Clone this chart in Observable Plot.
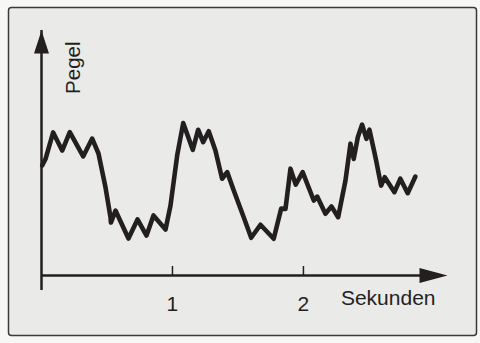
<!DOCTYPE html>
<html><head><meta charset="utf-8">
<script src="https://cdn.jsdelivr.net/npm/d3@7"></script>
<script src="https://cdn.jsdelivr.net/npm/@observablehq/plot@0.6"></script>
<style>html,body{margin:0;padding:0;background:#f7f7f5;} svg{display:block}</style>
</head><body><div id="chart"></div>
<script>
// time in seconds
const seconds = [0.005, 0.031, 0.089, 0.158, 0.216, 0.318, 0.387, 0.435, 0.489, 0.527, 0.530, 0.565, 0.664, 0.733, 0.802, 0.855, 0.947, 0.985, 1.036, 1.082, 1.155, 1.196, 1.234, 1.277, 1.328, 1.379, 1.418, 1.468, 1.544, 1.601, 1.672, 1.773, 1.830, 1.863, 1.901, 1.941, 1.994, 2.079, 2.105, 2.168, 2.214, 2.265, 2.321, 2.359, 2.384, 2.415, 2.448, 2.481, 2.504, 2.550, 2.593, 2.621, 2.695, 2.740, 2.796, 2.855];
// level (arbitrary units)
const levels = [4.49, 4.76, 5.84, 5.10, 5.85, 4.86, 5.59, 4.98, 3.59, 2.37, 2.16, 2.65, 1.51, 2.29, 1.63, 2.45, 1.88, 2.86, 4.90, 6.22, 5.13, 5.95, 5.44, 5.89, 5.10, 3.95, 4.22, 3.47, 2.38, 1.54, 2.07, 1.50, 2.73, 2.72, 4.36, 3.71, 4.22, 3.06, 3.22, 2.52, 2.82, 2.38, 3.88, 5.38, 4.76, 5.64, 6.16, 5.58, 5.95, 4.83, 3.67, 4.01, 3.40, 3.95, 3.36, 4.04];
const tickValues = [1, 2];
const tickLabels = ["1", "2"];
const xLabel = "Sekunden";
const yLabel = "Pegel";
const xMax = 3.1, yMax = 10;

const data = seconds.map((t, i) => ({t, v: levels[i]}));
const ink = "#231f20";

const arrowUp = {draw(ctx) { ctx.moveTo(0, 0); ctx.lineTo(7.5, 23); ctx.lineTo(-7.5, 23); ctx.closePath(); }};
const arrowRight = {draw(ctx) { ctx.moveTo(0, 0); ctx.lineTo(-28, -7.5); ctx.lineTo(-28, 7.5); ctx.closePath(); }};

const chart = Plot.plot({
  width: 480, height: 343,
  marginLeft: 41, marginRight: 33, marginTop: 30, marginBottom: 68,
  x: {domain: [0, xMax], axis: null},
  y: {domain: [0, yMax], axis: null},
  style: {background: "transparent", fontFamily: "'Liberation Sans', Arial, sans-serif"},
  marks: [
    Plot.frame({fill: "#eaeae9", stroke: "#3a3a3a", strokeWidth: 1.5, rx: 3, insetLeft: -33, insetRight: -29, insetTop: -23, insetBottom: -60}),
    Plot.ruleY([0], {x1: 0, x2: xMax, insetRight: 20, stroke: ink, strokeWidth: 2.5}),
    Plot.ruleX([0], {y1: 0, y2: yMax, insetTop: 15, stroke: ink, strokeWidth: 2.5}),
    Plot.dot([0], {x: 0, y: yMax, symbol: arrowUp, fill: ink, stroke: "none"}),
    Plot.dot([0], {x: xMax, y: 0, symbol: arrowRight, fill: ink, stroke: "none"}),
    Plot.ruleX(tickValues, {y1: 0, y2: 0, insetTop: -9, stroke: ink, strokeWidth: 1.5}),
    Plot.text(tickValues, {x: d => d, y: 0, text: (d, i) => tickLabels[i], dy: 29, fontSize: 21, fill: ink}),
    Plot.text([xLabel], {frameAnchor: "bottom-right", dx: -12, dy: 29, textAnchor: "end", fontSize: 21, fill: ink}),
    Plot.text([yLabel], {frameAnchor: "top-left", rotate: -90, textAnchor: "end", dx: 24, dy: 11, fontSize: 20.5, fill: ink}),
    Plot.line(data, {x: "t", y: "v", stroke: ink, strokeWidth: 4.6, strokeLinejoin: "round", strokeLinecap: "round"})
  ]
});
document.getElementById("chart").append(chart);
</script>
</body></html>
